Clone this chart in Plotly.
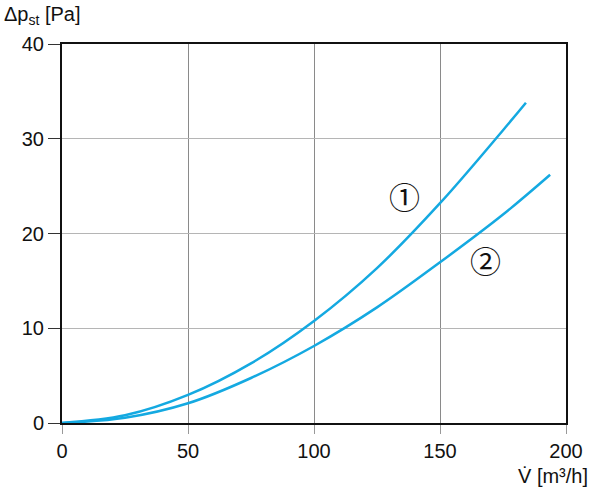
import plotly.graph_objects as go

# Data
x1 = [0, 25, 50, 75, 100, 125, 150, 175, 184.1]
y1 = [0, 0.81, 2.96, 6.29, 10.77, 16.35, 23.2, 30.9, 33.8]
x2 = [0, 25, 50, 75, 100, 125, 150, 175, 193.7]
y2 = [0, 0.55, 2.08, 4.75, 8.13, 12.2, 16.96, 22.0, 26.2]
xticks = [0, 50, 100, 150, 200]
yticks = [0, 10, 20, 30, 40]
labels = [("①", 135.8, 24.0), ("②", 168.1, 17.3)]

FONT = "Liberation Sans, Arial, sans-serif"
BLUE = "#14a9e1"

fig = go.Figure()
fig.add_trace(go.Scatter(x=x1, y=y1, mode="lines", line=dict(color=BLUE, width=2.5, shape="spline", smoothing=1.0), showlegend=False))
fig.add_trace(go.Scatter(x=x2, y=y2, mode="lines", line=dict(color=BLUE, width=2.5, shape="spline", smoothing=1.0), showlegend=False))

for txt, lx, ly in labels:
    fig.add_annotation(x=lx, y=ly, text=txt, showarrow=False,
                       font=dict(family="Noto Sans CJK SC, DejaVu Sans", size=31, color="#111"))

fig.add_annotation(xref="paper", yref="paper", x=-0.12, y=1.075, xanchor="left", yanchor="middle",
                   text="Δp<sub>st</sub> [Pa]", showarrow=False,
                   font=dict(family=FONT, size=20, color="#111"))
fig.add_annotation(xref="paper", yref="paper", x=1.047, y=-0.14, xanchor="right", yanchor="middle",
                   text="V\u0307 [m³/h]", showarrow=False,
                   font=dict(family=FONT, size=20, color="#111"))

fig.update_xaxes(range=[0, 200], tickvals=xticks, showgrid=True, gridcolor="#8a8a8a", gridwidth=1,
                 showline=True, linecolor="#111", linewidth=2, mirror=True,
                 ticks="outside", ticklen=9, tickcolor="#999", tickwidth=1,
                 tickfont=dict(family=FONT, size=20, color="#111"), zeroline=False)
fig.update_yaxes(range=[0, 40], tickvals=yticks, showgrid=True, gridcolor="#b5b5b5", gridwidth=1,
                 showline=True, linecolor="#111", linewidth=2, mirror=True,
                 ticks="outside", ticklen=12, tickcolor="#333", tickwidth=1,
                 tickfont=dict(family=FONT, size=20, color="#111"), zeroline=False)

fig.update_layout(width=600, height=497, margin=dict(l=62, r=34, t=44, b=74),
                  plot_bgcolor="white", paper_bgcolor="white")
fig.write_html("out.html")
